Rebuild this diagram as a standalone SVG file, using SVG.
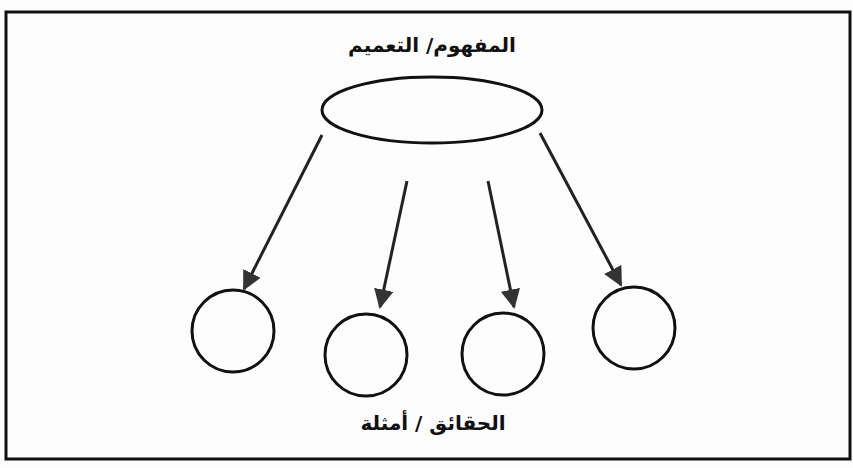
<svg xmlns="http://www.w3.org/2000/svg" width="853" height="468" viewBox="0 0 853 468">
<style>
.shape{fill:none;stroke:#111;stroke-width:3}
.conn{stroke:#222;stroke-width:3;fill:none}
.lbl{font-family:"DejaVu Sans","Noto Sans",sans-serif;font-weight:bold;font-size:20px;fill:#111;text-anchor:middle}
</style>
<defs>
<marker id="ah" viewBox="0 0 10 10" refX="9" refY="5" markerWidth="6.5" markerHeight="6.5" orient="auto" markerUnits="strokeWidth">
<path d="M0,0 L10,5 L0,10 z" fill="#333"/>
</marker>
</defs>
<rect x="0" y="0" width="853" height="468" fill="#fdfdfd"/>
<rect x="6" y="12" width="844" height="447" class="shape"/>
<g id="concept">
<ellipse cx="432" cy="110" rx="110" ry="33" class="shape"/>
<text x="432" y="52" class="lbl" direction="rtl">المفهوم/ التعميم</text>
</g>
<g id="fact1"><circle cx="233" cy="331" r="41" class="shape"/></g>
<g id="fact2"><circle cx="366" cy="355" r="41" class="shape"/></g>
<g id="fact3"><circle cx="503" cy="354" r="41" class="shape"/></g>
<g id="fact4"><circle cx="634" cy="328" r="41" class="shape"/></g>
<g id="factsLabel"><text x="433" y="430" class="lbl" direction="rtl">الحقائق / أمثلة</text></g>
<g id="connectors">
<line x1="322" y1="135" x2="244" y2="289" class="conn" marker-end="url(#ah)"/>
<line x1="407" y1="181" x2="380" y2="307" class="conn" marker-end="url(#ah)"/>
<line x1="488" y1="181" x2="514" y2="307" class="conn" marker-end="url(#ah)"/>
<line x1="540" y1="133" x2="621" y2="285" class="conn" marker-end="url(#ah)"/>
</g>
</svg>
